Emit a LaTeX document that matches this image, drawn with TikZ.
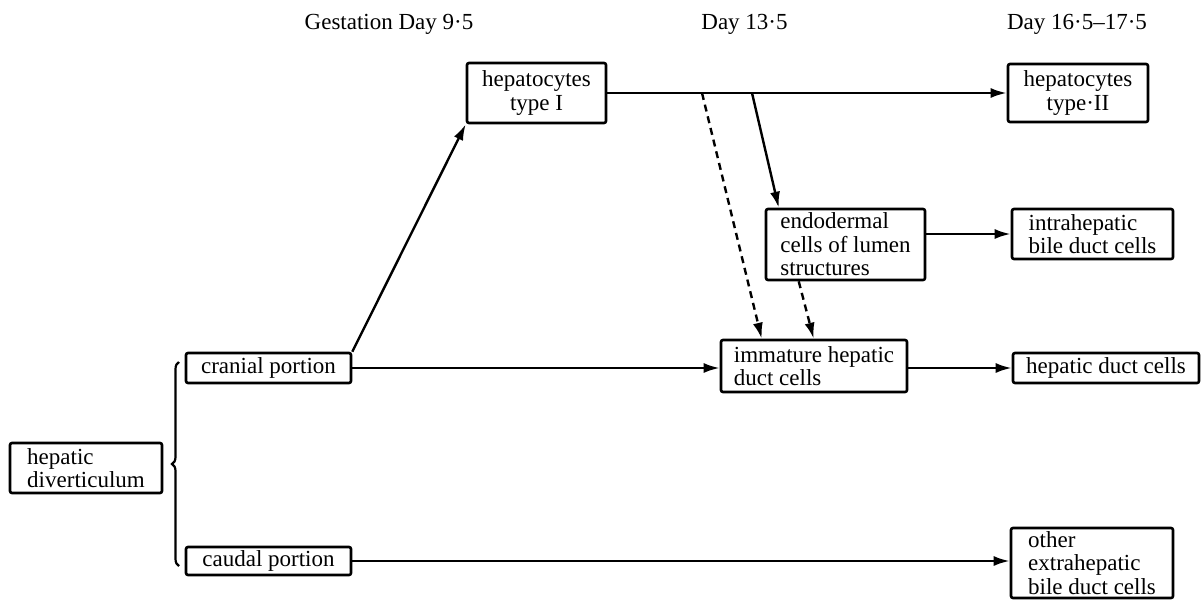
\documentclass[tikz,border=0pt]{standalone}
\usepackage{fontspec}
\setmainfont{Liberation Serif}
\usetikzlibrary{arrows.meta,decorations.pathreplacing}
\tikzset{
  cell/.style={draw,line width=1.3pt,rounded corners=1pt,inner sep=0pt,align=left},
  fwd/.style={-{Latex[length=8pt,width=5pt]},line width=1.2pt},
  maybe/.style={fwd,dash pattern=on 3.5pt off 2.5pt},
}
\newcommand{\daylabel}[3]{\node[anchor=base] (#1) at (#2,30) {#3};}

\begin{document}
\begin{tikzpicture}[x=0.5pt,y=-0.5pt,font=\fontsize{11.5}{11.7}\selectfont]
  \useasboundingbox (0,0) rectangle (1202,599);
  % time points
  \daylabel{day1}{389}{Gestation Day 9·5}
  \daylabel{day2}{744.5}{Day 13·5}
  \daylabel{day3}{1077}{Day 16·5–17·5}

  % cells
  \node[cell,minimum width=76pt,minimum height=25pt] (div) at (86,468) {hepatic\\diverticulum};
  \node[cell,minimum width=82.5pt,minimum height=15pt] (cranial) at (268.5,368) {cranial portion};
  \node[cell,minimum width=82.5pt,minimum height=14pt] (caudal) at (268.5,561) {caudal portion};
  \node[cell,align=center,minimum width=69.5pt,minimum height=30pt] (hepI) at (536.5,93) {hepatocytes\\type I};
  \node[cell,align=center,minimum width=70pt,minimum height=29pt] (hepII) at (1078,93) {hepatocytes\\type·II};
  \node[cell,minimum width=79.5pt,minimum height=35.5pt] (endo) at (845.5,244.5) {endodermal\\cells of lumen\\structures};
  \node[cell,minimum width=80.5pt,minimum height=25pt] (intra) at (1092.5,234) {intrahepatic\\bile duct cells};
  \node[cell,minimum width=93pt,minimum height=26pt] (immature) at (814,366) {immature hepatic\\duct cells};
  \node[cell,minimum width=93pt,minimum height=15pt] (hepduct) at (1106,368) {hepatic duct cells};
  \node[cell,minimum width=81pt,minimum height=35pt] (other) at (1092,563) {other\\extrahepatic\\bile duct cells};

  % brace
  \draw[line width=1.1pt,decorate,decoration={brace,amplitude=3.5pt}] (179,566) -- (179,362);

  % arrows
  \draw[fwd] (cranial.north east) -- (hepI.south west);
  \draw[fwd] (cranial.east) -- (cranial.east -| immature.west);
  \draw[fwd] (caudal.east) -- (caudal.east -| other.west);
  \draw[fwd] (hepI.east) -- (hepII.west);
  \coordinate (split1) at (702,93);
  \coordinate (split2) at (752,93);
  \draw[fwd] (split2) -- ([xshift=7pt]endo.north west);
  \draw[maybe] (split1) -- ([xshift=21pt]immature.north west);
  \draw[maybe] ([xshift=17pt]endo.south west) -- ([xshift=47pt]immature.north west);
  \draw[fwd] (endo.east |- intra.west) -- (intra.west);
  \draw[fwd] (cranial.east -| immature.east) -- (cranial.east -| hepduct.west);
\end{tikzpicture}
\end{document}
